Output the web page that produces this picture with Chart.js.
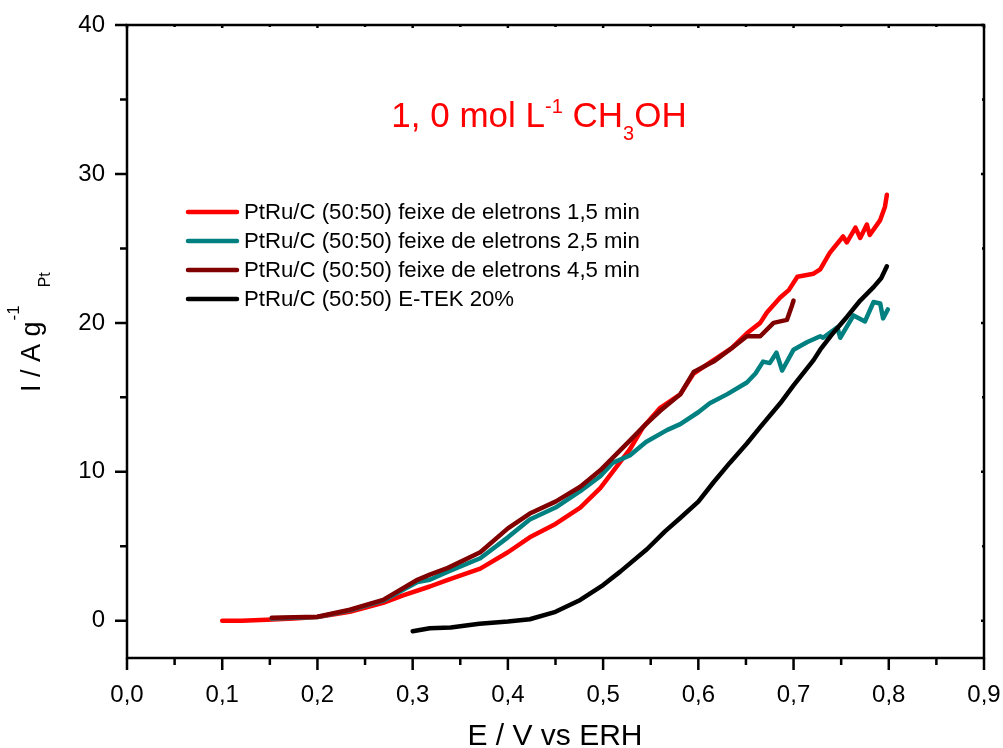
<!DOCTYPE html>
<html>
<head>
<meta charset="utf-8">
<script src="https://cdn.jsdelivr.net/npm/chart.js@4.4.0/dist/chart.umd.min.js"></script>
<style>
  body { margin: 0; background: #fff; overflow: hidden; }
  #wrap { width: 1003px; height: 748px; position: relative; }
  canvas { display: block; }
</style>
</head>
<body>
<div id="wrap"><canvas id="chart"></canvas></div>
<script>
// Series labels
const seriesLabels = [
    'PtRu/C (50:50) feixe de eletrons 1,5 min',
    'PtRu/C (50:50) feixe de eletrons 2,5 min',
    'PtRu/C (50:50) feixe de eletrons 4,5 min',
    'PtRu/C (50:50) E-TEK 20%'
];

// 1,5 min (red)
const e15 = [0.100, 0.120, 0.147, 0.175, 0.200, 0.234, 0.269, 0.290, 0.318, 0.337, 0.371, 0.400, 0.423, 0.450, 0.476, 0.497, 0.510, 0.528, 0.542, 0.560, 0.581, 0.595, 0.616, 0.635, 0.651, 0.665, 0.672, 0.686, 0.695, 0.704, 0.721, 0.728, 0.738, 0.752, 0.756, 0.765, 0.770, 0.777, 0.780, 0.791, 0.796, 0.798];
const i15 = [0.0, 0.0, 0.07, 0.15, 0.25, 0.6, 1.2, 1.7, 2.3, 2.75, 3.5, 4.6, 5.6, 6.5, 7.6, 8.9, 10.0, 11.5, 13.0, 14.3, 15.2, 16.6, 17.5, 18.3, 19.3, 20.0, 20.7, 21.7, 22.2, 23.1, 23.3, 23.6, 24.7, 25.8, 25.4, 26.4, 25.7, 26.6, 25.9, 26.9, 27.8, 28.6];

// 2,5 min (teal)
const e25 = [0.152, 0.200, 0.234, 0.269, 0.305, 0.318, 0.337, 0.371, 0.400, 0.423, 0.450, 0.476, 0.497, 0.510, 0.528, 0.545, 0.567, 0.581, 0.600, 0.612, 0.630, 0.651, 0.660, 0.668, 0.675, 0.682, 0.688, 0.700, 0.714, 0.728, 0.731, 0.746, 0.749, 0.763, 0.775, 0.784, 0.791, 0.794, 0.799];
const i25 = [0.15, 0.25, 0.7, 1.35, 2.6, 2.75, 3.3, 4.2, 5.6, 6.8, 7.6, 8.7, 9.7, 10.6, 11.1, 12.0, 12.8, 13.2, 14.0, 14.6, 15.2, 16.0, 16.6, 17.4, 17.3, 18.0, 16.8, 18.2, 18.7, 19.1, 19.0, 19.7, 19.0, 20.5, 20.1, 21.4, 21.3, 20.3, 20.9];

// 4,5 min (dark red)
const e45 = [0.152, 0.200, 0.234, 0.269, 0.305, 0.318, 0.337, 0.371, 0.400, 0.423, 0.450, 0.476, 0.497, 0.528, 0.545, 0.560, 0.581, 0.595, 0.616, 0.635, 0.651, 0.665, 0.679, 0.693, 0.698, 0.700];
const i45 = [0.2, 0.27, 0.74, 1.4, 2.75, 3.1, 3.55, 4.6, 6.2, 7.2, 8.0, 9.0, 10.1, 12.1, 13.2, 14.1, 15.2, 16.7, 17.4, 18.3, 19.1, 19.1, 20.0, 20.2, 21.1, 21.5];

// E-TEK 20% (black)
const eTek = [0.300, 0.318, 0.340, 0.370, 0.400, 0.423, 0.450, 0.476, 0.500, 0.518, 0.546, 0.565, 0.581, 0.600, 0.616, 0.633, 0.651, 0.665, 0.686, 0.700, 0.721, 0.728, 0.740, 0.756, 0.770, 0.784, 0.792, 0.798];
const iTek = [-0.7, -0.5, -0.45, -0.2, -0.05, 0.1, 0.6, 1.4, 2.4, 3.3, 4.8, 6.0, 6.9, 8.0, 9.3, 10.6, 11.9, 13.0, 14.6, 15.8, 17.5, 18.2, 19.2, 20.4, 21.5, 22.4, 23.0, 23.8];

// Axis ticks
const xMajor = [0, 0.1, 0.2, 0.3, 0.4, 0.5, 0.6, 0.7, 0.8, 0.9];
const xMinor = [0.05, 0.15, 0.25, 0.35, 0.45, 0.55, 0.65, 0.75, 0.85];
const yMajor = [0, 10, 20, 30, 40];
const yMinor = [5, 15, 25, 35];

const colors = ['#ff0000', '#008080', '#800000', '#000000'];
const FONT = '"Liberation Sans", Arial, sans-serif';

function toPoints(xs, ys) {
    return xs.map((x, i) => ({ x: x, y: ys[i] }));
}

// draws a run of text pieces (for sub/superscripts)
function drawPieces(ctx, pieces, x, y) {
    let cx = x;
    pieces.forEach(p => {
        ctx.font = p.size + 'px ' + FONT;
        if (p.text) ctx.fillText(p.text, cx, y + (p.dy || 0));
        cx += (p.text ? ctx.measureText(p.text).width : 0) + (p.gap || 0);
    });
    return cx - x;
}
function measurePieces(ctx, pieces) {
    let w = 0;
    pieces.forEach(p => {
        ctx.font = p.size + 'px ' + FONT;
        w += (p.text ? ctx.measureText(p.text).width : 0) + (p.gap || 0);
    });
    return w;
}

const decorPlugin = {
    id: 'decor',
    afterDraw(chart) {
        const ctx = chart.ctx;
        const xs = chart.scales.x, ys = chart.scales.y;
        const a = chart.chartArea;
        ctx.save();
        ctx.strokeStyle = '#000';
        ctx.lineWidth = 2.5;
        ctx.lineCap = 'butt';
        // frame
        ctx.strokeRect(a.left, a.top, a.right - a.left, a.bottom - a.top);

        // ticks
        ctx.beginPath();
        xMajor.forEach(v => {
            const px = xs.getPixelForValue(v);
            ctx.moveTo(px, a.bottom); ctx.lineTo(px, a.bottom + 12);
            ctx.moveTo(px, a.top); ctx.lineTo(px, a.top + 3);
        });
        xMinor.forEach(v => {
            const px = xs.getPixelForValue(v);
            ctx.moveTo(px, a.bottom); ctx.lineTo(px, a.bottom + 7);
            ctx.moveTo(px, a.top); ctx.lineTo(px, a.top + 2);
        });
        yMajor.forEach(v => {
            const py = ys.getPixelForValue(v);
            ctx.moveTo(a.left, py); ctx.lineTo(a.left - 12, py);
            ctx.moveTo(a.right, py); ctx.lineTo(a.right - 3, py);
        });
        yMinor.forEach(v => {
            const py = ys.getPixelForValue(v);
            ctx.moveTo(a.left, py); ctx.lineTo(a.left - 7, py);
            ctx.moveTo(a.right, py); ctx.lineTo(a.right - 2, py);
        });
        ctx.stroke();

        // legend
        ctx.textBaseline = 'middle';
        ctx.textAlign = 'left';
        seriesLabels.forEach((lab, i) => {
            const ly = 212 + i * 29;
            ctx.strokeStyle = colors[i];
            ctx.lineWidth = 4.5;
            ctx.lineCap = 'round';
            ctx.beginPath();
            ctx.moveTo(188, ly); ctx.lineTo(237, ly);
            ctx.stroke();
            ctx.fillStyle = '#000';
            ctx.font = '22.2px ' + FONT;
            ctx.fillText(lab, 244, ly + 1);
        });

        // annotation
        ctx.textBaseline = 'alphabetic';
        ctx.fillStyle = '#ff0000';
        const ann = [
            { text: '1, 0 mol L', size: 35 },
            { text: '-1', size: 20, dy: -14 },
            { text: ' CH', size: 35 },
            { text: '3', size: 20, dy: 13 },
            { text: 'OH', size: 35 }
        ];
        const aw = measurePieces(ctx, ann);
        drawPieces(ctx, ann, 539 - aw / 2, 127);

        // axis titles
        ctx.fillStyle = '#000';
        const xt = [{ text: 'E / V vs ERH', size: 30 }];
        const xw = measurePieces(ctx, xt);
        drawPieces(ctx, xt, 555 - xw / 2, 745);

        ctx.save();
        ctx.translate(40, 392);
        ctx.rotate(-Math.PI / 2);
        drawPieces(ctx, [
            { text: 'I / A g', size: 27, gap: 1 },
            { text: '-1', size: 17, dy: -21, gap: 18 },
            { text: 'Pt', size: 16, dy: 10 }
        ], 0, 0);
        ctx.restore();
        ctx.restore();
    }
};

const datasets = [
    { label: seriesLabels[0], data: toPoints(e15, i15), borderColor: colors[0], order: 3 },
    { label: seriesLabels[1], data: toPoints(e25, i25), borderColor: colors[1], order: 2 },
    { label: seriesLabels[2], data: toPoints(e45, i45), borderColor: colors[2], order: 1 },
    { label: seriesLabels[3], data: toPoints(eTek, iTek), borderColor: colors[3], order: 0 }
].map(d => Object.assign(d, {
    borderWidth: 4.5,
    pointRadius: 0,
    tension: 0,
    fill: false,
    borderJoinStyle: 'round',
    borderCapStyle: 'round'
}));

new Chart(document.getElementById('chart').getContext('2d'), {
    type: 'line',
    data: { datasets: datasets },
    options: {
        responsive: true,
        maintainAspectRatio: false,
        animation: false,
        layout: { padding: { left: 0, top: 25, right: 19, bottom: 0 } },
        plugins: {
            legend: { display: false },
            tooltip: { enabled: false }
        },
        scales: {
            x: {
                type: 'linear',
                min: 0,
                max: 0.9,
                grid: { display: false, drawTicks: false },
                border: { display: false },
                ticks: {
                    stepSize: 0.1,
                    autoSkip: false,
                    maxRotation: 0,
                    padding: 23,
                    color: '#000',
                    font: { family: FONT, size: 24 },
                    callback: v => v.toFixed(1).replace('.', ',')
                },
                afterFit: s => {
                    s.height = 90;
                    s.paddingLeft = 0;
                    s.paddingRight = 0;
                }
            },
            y: {
                type: 'linear',
                min: -2.5,
                max: 40,
                grid: { display: false, drawTicks: false },
                border: { display: false },
                ticks: {
                    stepSize: 10,
                    includeBounds: false,
                    padding: 22,
                    color: '#000',
                    font: { family: FONT, size: 24 },
                    callback: v => (v % 10 === 0 ? String(v) : '')
                },
                afterFit: s => {
                    s.width = 127;
                    s.paddingTop = 0;
                    s.paddingBottom = 0;
                }
            }
        }
    },
    plugins: [decorPlugin]
});
</script>
</body>
</html>
